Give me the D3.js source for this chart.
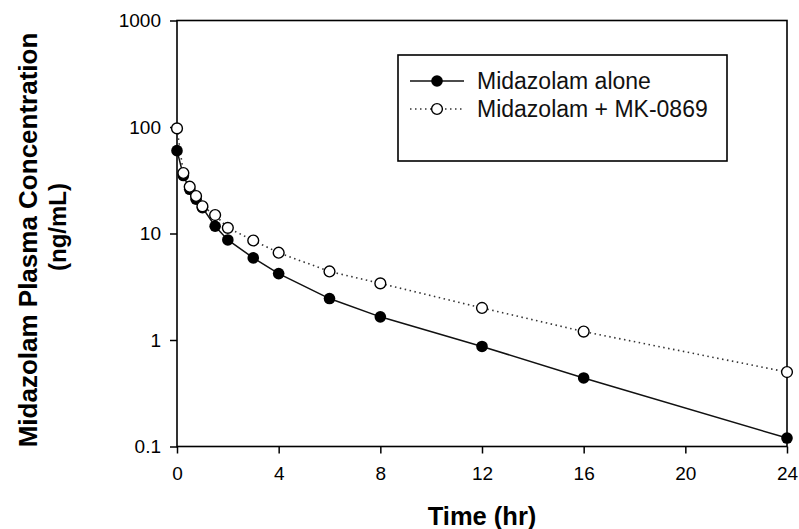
<!DOCTYPE html>
<html>
<head>
<meta charset="utf-8">
<script src="https://cdn.jsdelivr.net/npm/d3@7"></script>
<style>
  body { margin: 0; background: #fff; }
  text { font-family: "Liberation Sans", Arial, sans-serif; }
</style>
</head>
<body>
<svg id="chart" width="799" height="529"></svg>
<script>
// values
var times = [0, 0.25, 0.5, 0.75, 1, 1.5, 2, 3, 4, 6, 8, 12, 16, 24]
var aloneConc = [60, 35, 26, 21, 17.5, 11.7, 8.7, 5.9, 4.2, 2.45, 1.65, 0.87, 0.44, 0.12]
var comboConc = [97, 37, 27.5, 22.5, 18, 14.9, 11.3, 8.6, 6.6, 4.4, 3.4, 2.0, 1.2, 0.5]
var seriesNames = ["Midazolam alone", "Midazolam + MK-0869"]
var xTicks = [0, 4, 8, 12, 16, 20, 24]
var yTicks = [0.1, 1, 10, 100, 1000]

var dims = { width: 799, height: 529, margin: { top: 20.5, right: 12, bottom: 82.5, left: 177 } }
dims.boundedWidth = dims.width - dims.margin.left - dims.margin.right
dims.boundedHeight = dims.height - dims.margin.top - dims.margin.bottom

var svg = d3.select("#chart")
var g = svg.append("g")
        .attr("transform", "translate(" + dims.margin.left + "," + dims.margin.top + ")")

var xScale = d3.scaleLinear().domain([0, 24]).range([0, dims.boundedWidth])
var yScale = d3.scaleLog().domain([0.1, 1000]).range([dims.boundedHeight, 0])

// axes
g.append("g")
        .attr("transform", "translate(0," + dims.boundedHeight + ")")
        .call(d3.axisBottom(xScale).tickValues(xTicks).tickSize(7).tickPadding(13).tickFormat(d3.format("d")))
g.append("g")
        .call(d3.axisLeft(yScale).tickValues(yTicks).tickSize(7).tickPadding(9).tickFormat(function(d) { return d < 1 ? "0.1" : d3.format("d")(d) }))

g.selectAll(".domain").remove()
g.selectAll(".tick line").attr("stroke", "#000").attr("stroke-width", 1.5)
g.selectAll(".tick text").attr("fill", "#000").style("font-size", "19px")

// frame
g.append("rect")
        .attr("x", 0).attr("y", 0)
        .attr("width", dims.boundedWidth).attr("height", dims.boundedHeight)
        .attr("fill", "none").attr("stroke", "#000").attr("stroke-width", 1.6)

// lines
var aloneData = times.map(function(t, i) { return [t, aloneConc[i]] })
var comboData = times.map(function(t, i) { return [t, comboConc[i]] })
var line = d3.line().x(d => xScale(d[0])).y(d => yScale(d[1]))

g.append("path").datum(aloneData)
        .attr("fill", "none").attr("stroke", "#111").attr("stroke-width", 1.5)
        .attr("d", line)
g.append("path").datum(comboData)
        .attr("fill", "none").attr("stroke", "#333").attr("stroke-width", 1.6)
        .attr("stroke-dasharray", "1.5,3.5")
        .attr("d", line)

// dots
g.selectAll(".alone").data(aloneData).enter().append("circle")
        .attr("class", "alone")
        .attr("cx", d => xScale(d[0])).attr("cy", d => yScale(d[1]))
        .attr("r", 5.8).attr("fill", "#000")
g.selectAll(".combo").data(comboData).enter().append("circle")
        .attr("class", "combo")
        .attr("cx", d => xScale(d[0])).attr("cy", d => yScale(d[1]))
        .attr("r", 5.4).attr("fill", "#fff").attr("stroke", "#000").attr("stroke-width", 1.4)

// legend
var legend = svg.append("g").attr("transform", "translate(398,55)")
legend.append("rect")
        .attr("width", 329).attr("height", 106)
        .attr("fill", "#fff").attr("stroke", "#000").attr("stroke-width", 1.6)
var rows = [26, 54]
seriesNames.forEach(function(name, i) {
    var row = legend.append("g").attr("transform", "translate(0," + rows[i] + ")")
    row.append("line").attr("x1", 12).attr("x2", 66).attr("y1", 0).attr("y2", 0)
        .attr("stroke", i == 0 ? "#111" : "#333").attr("stroke-width", 1.5)
        .attr("stroke-dasharray", i == 0 ? null : "1.5,3.5")
    row.append("circle").attr("cx", 39).attr("cy", 0).attr("r", i == 0 ? 5.8 : 5.4)
        .attr("fill", i == 0 ? "#000" : "#fff")
        .attr("stroke", i == 0 ? "none" : "#000").attr("stroke-width", 1.4)
    row.append("text").attr("x", 79).attr("y", 0).attr("dy", "0.36em")
        .style("font-size", "23px").attr("fill", "#111")
        .text(name)
})

// axis titles
svg.append("text")
        .attr("x", dims.margin.left + dims.boundedWidth / 2).attr("y", 525)
        .attr("text-anchor", "middle")
        .style("font-size", "25.5px").style("font-weight", "bold")
        .text("Time (hr)")

svg.append("text")
        .attr("transform", "translate(37,240) rotate(-90)")
        .attr("text-anchor", "middle")
        .style("font-size", "26px").style("font-weight", "bold")
        .text("Midazolam Plasma Concentration")
svg.append("text")
        .attr("transform", "translate(66,227) rotate(-90)")
        .attr("text-anchor", "middle")
        .style("font-size", "24px").style("font-weight", "bold")
        .text("(ng/mL)")
</script>
</body>
</html>
